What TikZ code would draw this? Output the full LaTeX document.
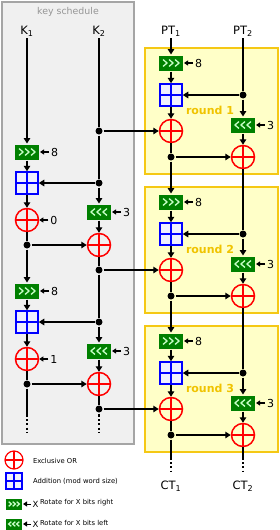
\documentclass[tikz,border=0pt]{standalone}
\usepackage{fontspec}
\setmainfont{DejaVu Sans}
\usetikzlibrary{arrows.meta,positioning}

\definecolor{keyfill}{RGB}{240,240,240}
\definecolor{keyedge}{RGB}{165,165,165}
\definecolor{keytext}{RGB}{150,150,150}
\definecolor{roundfill}{RGB}{255,255,200}
\definecolor{roundedge}{RGB}{245,200,20}
\definecolor{roundtext}{RGB}{240,195,0}
\definecolor{rotgreen}{RGB}{0,128,0}
\definecolor{chevcol}{RGB}{200,255,200}

\tikzset{
  keyframe/.style={draw=keyedge, fill=keyfill, line width=2pt},
  roundframe/.style={draw=roundedge, fill=roundfill, line width=2pt},
  keytitle/.style={text=keytext, font=\fontsize{9.4}{11}\selectfont},
  roundlabel/.style={text=roundtext, font=\fontsize{11}{13}\selectfont\bfseries},
  inlabel/.style={font=\fontsize{11.5}{13}\selectfont, inner sep=1pt},
  shiftlab/.style={font=\fontsize{11}{12}\selectfont, inner sep=1pt},
  legtext/.style={font=\fontsize{6.8}{8}\selectfont, anchor=west, inner sep=0pt},
  legx/.style={font=\fontsize{8.5}{9}\selectfont, inner sep=0.5pt},
  xorop/.style={circle, draw=red, line width=1.5pt, inner sep=0pt, minimum size=23pt,
    path picture={\draw[red, line width=1.5pt]
      (path picture bounding box.north) -- (path picture bounding box.south)
      (path picture bounding box.west) -- (path picture bounding box.east);}},
  addop/.style={rectangle, draw=blue, fill=blue!6, line width=1.5pt, inner sep=0pt, minimum size=22pt,
    path picture={\draw[blue, line width=1.5pt]
      (path picture bounding box.north) -- (path picture bounding box.south)
      (path picture bounding box.west) -- (path picture bounding box.east);}},
  chevw/.store in=\chevw, chevw=6pt,
  chevline/.style={draw=chevcol, line width=1.3pt},
  rotbase/.style={rectangle, fill=rotgreen, inner sep=0pt, minimum width=24pt, minimum height=15pt},
  rotr/.style={rotbase, path picture={\foreach \cc in {-1,0,1}
      \draw[chevline] ([shift={(\cc*\chevw-0.33*\chevw,0.58*\chevw)}]path picture bounding box.center)
        -- ++(0.67*\chevw,-0.58*\chevw) -- ++(-0.67*\chevw,-0.58*\chevw);}},
  rotl/.style={rotbase, path picture={\foreach \cc in {-1,0,1}
      \draw[chevline] ([shift={(\cc*\chevw+0.33*\chevw,0.58*\chevw)}]path picture bounding box.center)
        -- ++(-0.67*\chevw,-0.58*\chevw) -- ++(0.67*\chevw,-0.58*\chevw);}},
  junction/.style={circle, fill=black, inner sep=0pt, minimum size=7pt},
  labarrow/.style={line width=1.4pt, -{Triangle[length=4pt,width=5pt]}},
  dotline/.style={line width=2pt, dash pattern=on 2pt off 2.2pt}
}

\begin{document}
\begin{tikzpicture}[x=1pt, y=-1pt, line width=2pt, >={Triangle[length=5.5pt,width=6.5pt]}]
  \useasboundingbox (0,0) rectangle (280,530);

  % frames
  \draw[keyframe] (2,2) rectangle (134,444);
  \node[keytitle] (ktitle) at (68,12) {key schedule};

  \foreach \i in {1,2,3}{
    \pgfmathsetmacro\y{63+139*(\i-1)}
    \draw[roundframe] (145,\y-15) rectangle (278,\y+111);
    \node[roundlabel] (rt\i) at (210,\y+47) {round \i};
  }

  % inputs and outputs
  \node[inlabel] (k1) at (27,31) {K\textsubscript{1}};
  \node[inlabel] (k2) at (99,31) {K\textsubscript{2}};
  \node[inlabel] (pt1) at (171,31) {PT\textsubscript{1}};
  \node[inlabel] (pt2) at (243,31) {PT\textsubscript{2}};
  \node[inlabel] (ct1) at (171,486) {CT\textsubscript{1}};
  \node[inlabel] (ct2) at (243,486) {CT\textsubscript{2}};

  % cipher rounds
  \foreach \i in {1,2,3}{
    \pgfmathsetmacro\y{63+139*(\i-1)}
    \node[rotr] (rr\i) at (171,\y) {};
    \node[shiftlab, right=9pt of rr\i] (rrn\i) {8};
    \node[addop] (add\i) at (171,\y+32) {};
    \node[junction] (dr\i) at (243,\y+32) {};
    \node[rotl] (rl\i) at (243,\y+62) {};
    \node[shiftlab, right=9pt of rl\i] (rln\i) {3};
    \node[xorop] (xa\i) at (171,\y+68) {};
    \node[junction] (dl\i) at (171,\y+94) {};
    \node[xorop] (xb\i) at (243,\y+94) {};
  }

  % key schedule rounds
  \node[junction] (kd0) at (99,131) {};
  \foreach \j in {1,2}{
    \pgfmathsetmacro\y{152+139*(\j-1)}
    \pgfmathtruncatemacro\n{\j-1}
    \node[rotr] (krr\j) at (27,\y) {};
    \node[shiftlab, right=9pt of krr\j] (krrn\j) {8};
    \node[addop] (kadd\j) at (27,\y+31) {};
    \node[junction] (kdr\j) at (99,\y+31) {};
    \node[xorop] (kxa\j) at (27,\y+68) {};
    \node[shiftlab, right=9pt of kxa\j] (kxan\j) {\n};
    \node[rotl] (krl\j) at (99,\y+60) {};
    \node[shiftlab, right=9pt of krl\j] (krln\j) {3};
    \node[junction] (kdl\j) at (27,\y+93) {};
    \node[xorop] (kxb\j) at (99,\y+93) {};
    \node[junction] (kdo\j) at (99,\y+118) {};
  }

  % free ends
  \coordinate (k1s) at (27,415);  \coordinate (k1e) at (27,433);
  \coordinate (k2s) at (99,415);  \coordinate (k2e) at (99,433);
  \coordinate (ct1s) at (171,458); \coordinate (ct1e) at (171,472);
  \coordinate (ct2s) at (243,458); \coordinate (ct2e) at (243,472);

  % cipher wiring
  \draw[->] (pt1) -- (rr1);
  \draw (pt2) -- (dr1);
  \foreach \i in {1,2,3}{
    \draw[->] (rr\i) -- (add\i);
    \draw[->] (add\i) -- (xa\i);
    \draw (xa\i) -- (dl\i);
    \draw[->] (dl\i) -- (xb\i);
    \draw[->] (dr\i) -- (add\i);
    \draw[->] (dr\i) -- (rl\i);
    \draw[->] (rl\i) -- (xb\i);
    \draw[labarrow] (rrn\i) -- (rr\i);
    \draw[labarrow] (rln\i) -- (rl\i);
  }
  \foreach \i/\j in {1/2,2/3}{
    \draw[->] (dl\i) -- (rr\j);
    \draw (xb\i) -- (dr\j);
  }
  \draw (dl3) -- (ct1s);
  \draw[dotline] (ct1s) -- (ct1e);
  \draw (xb3) -- (ct2s);
  \draw[dotline] (ct2s) -- (ct2e);

  % key wiring
  \draw[->] (k1) -- (krr1);
  \draw (k2) -- (kd0);
  \draw (kd0) -- (kdr1);
  \draw[->] (kd0) -- (xa1);
  \foreach \j in {1,2}{
    \draw[->] (krr\j) -- (kadd\j);
    \draw[->] (kadd\j) -- (kxa\j);
    \draw (kxa\j) -- (kdl\j);
    \draw[->] (kdl\j) -- (kxb\j);
    \draw[->] (kdr\j) -- (kadd\j);
    \draw[->] (kdr\j) -- (krl\j);
    \draw[->] (krl\j) -- (kxb\j);
    \draw (kxb\j) -- (kdo\j);
    \draw[labarrow] (krrn\j) -- (krr\j);
    \draw[labarrow] (kxan\j) -- (kxa\j);
    \draw[labarrow] (krln\j) -- (krl\j);
  }
  \draw[->] (kdl1) -- (krr2);
  \draw (kdo1) -- (kdr2);
  \draw[->] (kdo1) -- (xa2);
  \draw[->] (kdo2) -- (xa3);
  \draw (kdl2) -- (k1s);
  \draw[dotline] (k1s) -- (k1e);
  \draw (kdo2) -- (k2s);
  \draw[dotline] (k2s) -- (k2e);

  % legend
  \node[xorop, minimum size=18pt, line width=1.2pt] (lxor) at (14,460) {};
  \node[legtext] (lxort) at (32,461) {Exclusive OR};
  \node[addop, minimum size=16pt, line width=1.2pt] (ladd) at (14,481) {};
  \node[legtext] (laddt) at (32,481) {Addition (mod word size)};
  \node[rotr, minimum width=16pt, minimum height=11pt, chevw=4pt] (lrr) at (14,504) {};
  \node[legx, right=8pt of lrr] (lrrx) {X};
  \node[legtext] (lrrt) at (39,503) {Rotate for X bits right};
  \node[rotl, minimum width=16pt, minimum height=11pt, chevw=4pt] (lrl) at (14,524) {};
  \node[legx, right=8pt of lrl] (lrlx) {X};
  \node[legtext] (lrlt) at (39,523) {Rotate for X bits left};
  \draw[labarrow, line width=1pt] (lrrx) -- (lrr);
  \draw[labarrow, line width=1pt] (lrlx) -- (lrl);
\end{tikzpicture}
\end{document}
